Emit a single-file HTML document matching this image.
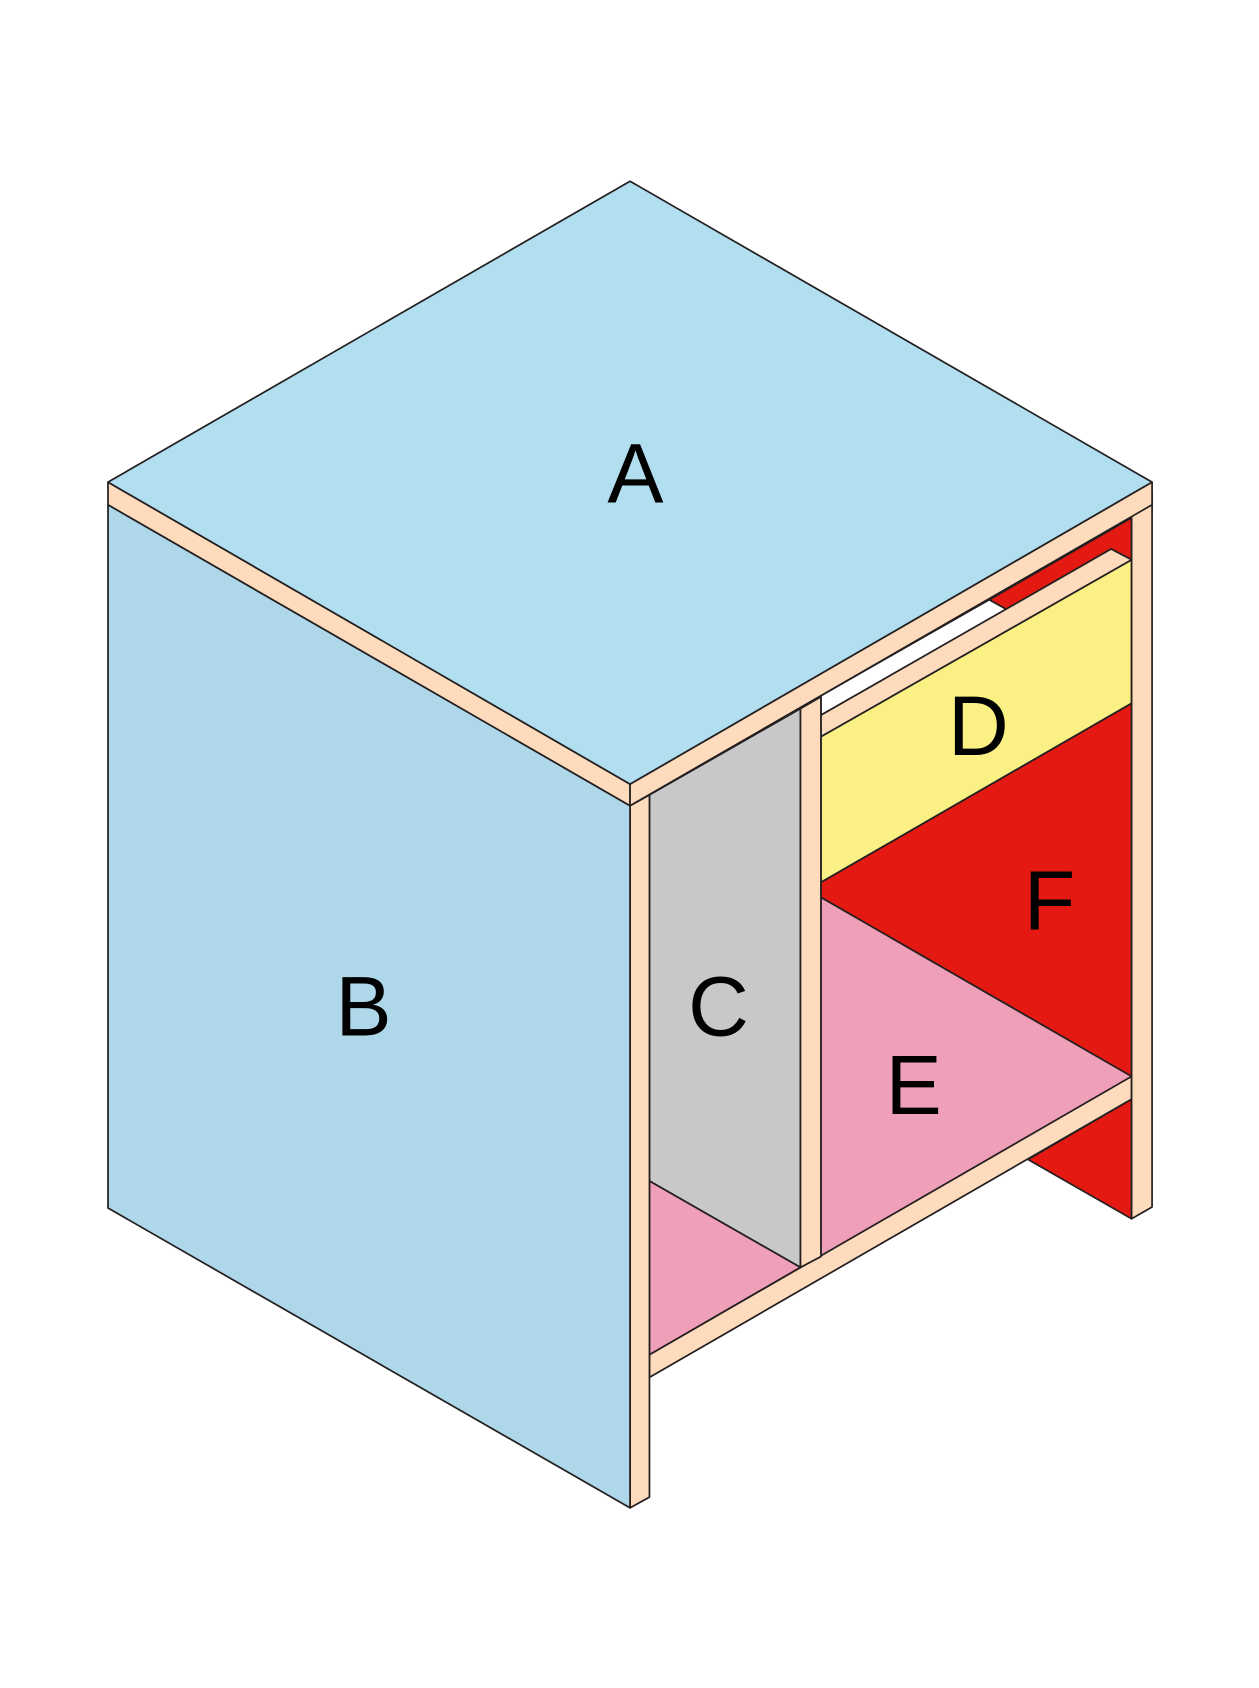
<!DOCTYPE html>
<html><head><style>html,body{margin:0;padding:0;background:#fff}svg{display:block}</style></head>
<body>
<svg width="1259" height="1688" viewBox="0 0 1167 1565" xmlns="http://www.w3.org/2000/svg">
<g stroke="#231f20" stroke-width="1.6" stroke-linejoin="round">
<!-- back red panel regions -->
<polygon points="917,556 1049,480 1049,519 1030,509 933,565" fill="#e41a12"/>
<polygon points="761,645 917,556 933,565 761,663" fill="#ffffff"/>
<polygon points="761,818 1049,652 1049,998 761,832" fill="#e41a12"/>
<polygon points="953,1075 1049,1019 1049,1130" fill="#e41a12"/>
<!-- D -->
<polygon points="761,683 1049,519 1049,652 761,818" fill="#fbf083"/>
<!-- upper shelf -->
<polygon points="761,663 1030,509 1049,519 761,683" fill="#fddbbc"/>
<!-- E -->
<polygon points="761,832 1049,998 761,1165" fill="#f09fb9"/>
<!-- C -->
<polygon points="602,737 742,657 742,1175 602,1095" fill="#c8c8c8"/>
<polygon points="602,1095 742,1175 602,1256" fill="#f09fb9"/>
<!-- bottom shelf -->
<polygon points="602,1256 1049,998 1049,1019 602,1277" fill="#fddbbc"/>
<!-- middle post -->
<polygon points="742,657 761,646 761,1165 742,1175" fill="#fddbbc"/>
<!-- right post -->
<polygon points="1049,468 1068,457 1068,1119 1049,1130" fill="#fddbbc"/>
<!-- front post -->
<polygon points="584,747 602,737 602,1388 584,1398" fill="#fddbbc"/>
<!-- B -->
<polygon points="100,468 584,747 584,1398 100,1120" fill="#aed7e9"/>
<!-- top edge strips -->
<polygon points="100,447 584,727 584,747 100,468" fill="#fddbbc"/>
<polygon points="584,727 1068,447 1068,468 584,747" fill="#fddbbc"/>
<!-- A -->
<polygon points="584,168 1068,447 584,727 100,447" fill="#b1dff0"/>
</g>
<g font-family="Liberation Sans, Arial, sans-serif" font-size="78" fill="#000" text-anchor="middle">
<text x="589" y="466">A</text>
<text x="337" y="960">B</text>
<text x="666" y="960">C</text>
<text x="907" y="700">D</text>
<text x="847" y="1033">E</text>
<text x="973" y="862">F</text>
</g>
</svg>
</body></html>
